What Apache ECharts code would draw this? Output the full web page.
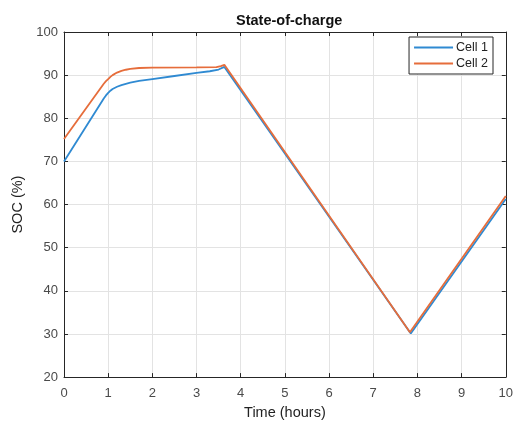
<!DOCTYPE html>
<html><head><meta charset="utf-8">
<script src="https://cdn.jsdelivr.net/npm/echarts@6/dist/echarts.min.js"></script>
<style>html,body{margin:0;padding:0;background:#fff}#c{width:516px;height:425px}</style>
</head><body><div id="c"></div>
<script>
var titleText = 'State-of-charge';
var seriesNames = ['Cell 1', 'Cell 2'];
var xTicks = [0,1,2,3,4,5,6,7,8,9,10];
var yTicks = [20,30,40,50,60,70,80,90,100];
var time1 = [0, 0.9, 0.95, 1.0, 1.05, 1.1, 1.2, 1.3, 1.4, 1.5, 1.7, 2.0, 2.5, 3.0, 3.3, 3.5, 3.63, 7.85, 10];
var soc1  = [70, 84.6, 85.3, 85.9, 86.4, 86.8, 87.3, 87.7, 88.0, 88.25, 88.65, 89.1, 89.8, 90.5, 90.9, 91.3, 91.9, 30.1, 61.3];
var time2 = [0, 0.9, 0.95, 1.0, 1.05, 1.1, 1.2, 1.3, 1.4, 1.5, 1.7, 2.0, 3.0, 3.45, 3.55, 3.63, 7.83, 10];
var soc2  = [75.2, 88.0, 88.6, 89.1, 89.6, 90.0, 90.6, 91.0, 91.25, 91.45, 91.65, 91.75, 91.8, 91.85, 92.1, 92.4, 30.4, 62];
var colors = ['#2f8ad2', '#e66d3b'];

function pairs(t, v){ return t.map(function(x,i){ return [x, v[i]]; }); }

var axisCol = '#262626';
var labCol = '#4a4a4a';
var font = 'Liberation Sans, Arial, sans-serif';

var chart = echarts.init(document.getElementById('c'), null, {renderer:'canvas'});
chart.setOption({
  animation: false,
  backgroundColor: '#fff',
  color: colors,
  title: { text: titleText, left: 231, top: 8,
    textStyle: { fontFamily: font, fontSize: 14.5, fontWeight: 'bold', color: '#111' } },
  legend: {
    data: seriesNames, orient: 'vertical', right: 23, top: 37,
    icon: 'rect', itemWidth: 39, itemHeight: 2, itemGap: 3,
    padding: [4, 5, 4, 5],
    borderColor: '#262626', borderWidth: 1, backgroundColor: '#fff',
    textStyle: { fontFamily: font, fontSize: 12.5, color: '#222', padding: [0,0,0,-2] }
  },
  grid: { left: 64, right: 9, top: 32, bottom: 45, containLabel: false },
  xAxis: [{
    type: 'value', min: 0, max: 10, interval: 1,
    name: 'Time (hours)', nameLocation: 'middle', nameGap: 27,
    nameTextStyle: { fontFamily: font, fontSize: 14.5, color: '#222' },
    axisLine: { show: true, onZero: false, lineStyle: { color: axisCol, width: 1 } },
    axisTick: { show: true, inside: true, length: 4, lineStyle: { color: axisCol } },
    axisLabel: { fontFamily: font, fontSize: 13, color: labCol, margin: 10,
      formatter: function(v){ return xTicks.indexOf(v) >= 0 ? String(v) : ''; } },
    splitLine: { show: true, lineStyle: { color: '#e3e3e3', width: 1 } }
  }, {
    type: 'value', position: 'top', min: 0, max: 10, interval: 1,
    axisLine: { show: true, onZero: false, lineStyle: { color: axisCol, width: 1 } },
    axisTick: { show: true, inside: true, length: 4, lineStyle: { color: axisCol } },
    axisLabel: { show: false }, splitLine: { show: false }
  }],
  yAxis: [{
    type: 'value', min: 20, max: 100, interval: 10,
    name: 'SOC (%)', nameLocation: 'middle', nameGap: 31,
    nameTextStyle: { fontFamily: font, fontSize: 14.5, color: '#222' },
    axisLine: { show: true, onZero: false, lineStyle: { color: axisCol, width: 1 } },
    axisTick: { show: true, inside: true, length: 4, lineStyle: { color: axisCol } },
    axisLabel: { fontFamily: font, fontSize: 13, color: labCol, margin: 6,
      formatter: function(v){ return yTicks.indexOf(v) >= 0 ? String(v) : ''; } },
    splitLine: { show: true, lineStyle: { color: '#e3e3e3', width: 1 } }
  }, {
    type: 'value', position: 'right', min: 20, max: 100, interval: 10,
    axisLine: { show: true, onZero: false, lineStyle: { color: axisCol, width: 1 } },
    axisTick: { show: true, inside: true, length: 4, lineStyle: { color: axisCol } },
    axisLabel: { show: false }, splitLine: { show: false }
  }],
  series: [{
    name: seriesNames[0], type: 'line', data: pairs(time1, soc1),
    showSymbol: false, symbol: 'none', lineStyle: { width: 1.8, color: colors[0] }, z: 3
  }, {
    name: seriesNames[1], type: 'line', data: pairs(time2, soc2),
    showSymbol: false, symbol: 'none', lineStyle: { width: 1.8, color: colors[1] }, z: 4
  }]
});
</script></body></html>
